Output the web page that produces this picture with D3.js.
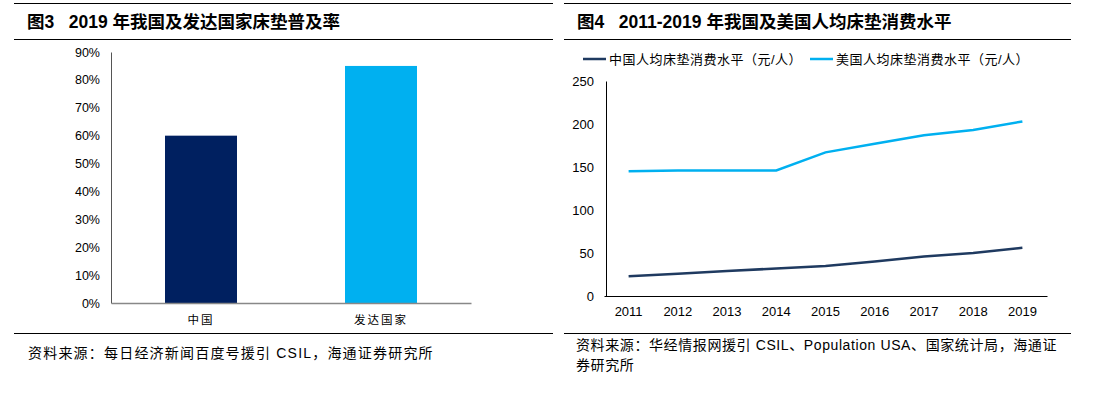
<!DOCTYPE html>
<html>
<head>
<meta charset="utf-8">
<script src="https://cdn.jsdelivr.net/npm/d3@7"></script>
<style>
  body { margin: 0; background: #fff; }
  svg { display: block; }
  text { font-family: "Liberation Sans", "Noto Sans CJK SC", sans-serif; }
  .title { white-space: pre; }
</style>
</head>
<body>
<svg id="chart" width="1108" height="393"></svg>
<script>
// left chart data
const barCats = ["中国", "发达国家"];
const barValues = [0.60, 0.85];
const barColors = ["#002060", "#00B0F0"];
const pctTicks = [0, 0.1, 0.2, 0.3, 0.4, 0.5, 0.6, 0.7, 0.8, 0.9];

// right chart data
const years = ["2011", "2012", "2013", "2014", "2015", "2016", "2017", "2018", "2019"];
const chinaSpend = [23, 26, 29, 32, 35, 40, 46, 50, 56];
const usaSpend = [145, 146, 146, 146, 167, 177, 187, 193, 203];
const seriesNames = ["中国人均床垫消费水平（元/人）", "美国人均床垫消费水平（元/人）"];
const lineColors = ["#1F3A60", "#00B0F0"];

const svg = d3.select("#chart");

// frame rules + titles
function panelFrame(x0, x1, title, bottomY) {
  svg.append("line").attr("x1", x0).attr("x2", x1).attr("y1", 3.5).attr("y2", 3.5)
    .attr("stroke", "#000").attr("stroke-width", 1);
  svg.append("line").attr("x1", x0).attr("x2", x1).attr("y1", 39.5).attr("y2", 39.5)
    .attr("stroke", "#000").attr("stroke-width", 1);
  svg.append("line").attr("x1", x0).attr("x2", x1).attr("y1", bottomY).attr("y2", bottomY)
    .attr("stroke", "#000").attr("stroke-width", 1);
  svg.append("text").attr("x", x0 + 13).attr("y", 28)
    .attr("class", "title")
    .style("font-size", "17.5px").style("font-weight", "bold")
    .text(title);
}
panelFrame(14, 553, "图3   2019 年我国及发达国家床垫普及率", 333.5);
panelFrame(564, 1071, "图4   2011-2019 年我国及美国人均床垫消费水平", 333.5);

// ---------- left: bar chart ----------
const x1 = d3.scaleBand().domain(barCats).range([111, 471]).paddingInner(0.6).paddingOuter(0.3);
const y1 = d3.scaleLinear().domain([0, 0.9]).range([303, 52]);

const gL = svg.append("g");
gL.selectAll("rect")
  .data(barCats)
  .join("rect")
  .attr("x", (d) => x1(d))
  .attr("width", x1.bandwidth())
  .attr("y", (d, i) => y1(barValues[i]))
  .attr("height", (d, i) => y1(0) - y1(barValues[i]))
  .attr("fill", (d, i) => barColors[i]);

const yAxL = gL.append("g").attr("transform", "translate(111,0)")
  .call(d3.axisLeft(y1).tickValues(pctTicks).tickSize(0).tickPadding(11).tickFormat(d3.format(".0%")));
yAxL.select(".domain").attr("stroke", "#555");
yAxL.selectAll("text").style("font-size", "12.5px").attr("fill", "#000");

const xAxL = gL.append("g").attr("transform", "translate(0,303)")
  .call(d3.axisBottom(x1).tickSize(0).tickPadding(13));
xAxL.select(".domain").attr("stroke", "#888").attr("stroke-width", 1.5);
xAxL.selectAll("text").style("font-size", "11.5px").style("letter-spacing", "2px").attr("fill", "#000");

svg.append("text").attr("x", 28).attr("y", 358)
  .style("font-size", "14px").style("letter-spacing", "1.2px")
  .text("资料来源：每日经济新闻百度号援引 CSIL，海通证券研究所");

// ---------- right: line chart ----------
const x2 = d3.scaleBand().domain(years).range([604, 1047]);
const y2 = d3.scaleLinear().domain([0, 250]).range([296, 81]);

const gR = svg.append("g");
const yAxR = gR.append("g").attr("transform", "translate(606,0)")
  .call(d3.axisLeft(y2).ticks(5).tickSize(0).tickPadding(12));
yAxR.select(".domain").attr("stroke", "#000");
yAxR.selectAll("text").style("font-size", "13px").attr("fill", "#000");

const xAxR = gR.append("g").attr("transform", "translate(0,296)")
  .call(d3.axisBottom(x2).tickSize(0).tickPadding(11));
xAxR.select(".domain").attr("stroke", "#000");
xAxR.selectAll("text").style("font-size", "13px").attr("fill", "#000");

const line = d3.line()
  .x((d, i) => x2(years[i]) + x2.bandwidth() / 2)
  .y((d) => y2(d));

[chinaSpend, usaSpend].forEach((vals, k) => {
  gR.append("path")
    .datum(vals)
    .attr("d", line)
    .attr("fill", "none")
    .attr("stroke", lineColors[k])
    .attr("stroke-width", 2.5);
});

// legend
const legX = [583, 810];
seriesNames.forEach((name, k) => {
  svg.append("line").attr("x1", legX[k]).attr("x2", legX[k] + 23)
    .attr("y1", 59).attr("y2", 59)
    .attr("stroke", lineColors[k]).attr("stroke-width", 2.5);
  svg.append("text").attr("x", legX[k] + 26).attr("y", 64)
    .style("font-size", "13px").style("letter-spacing", "0.5px").text(name);
});

svg.append("text").attr("x", 576).attr("y", 350)
  .style("font-size", "14px").style("letter-spacing", "0.6px")
  .text("资料来源：华经情报网援引 CSIL、Population USA、国家统计局，海通证");
svg.append("text").attr("x", 576).attr("y", 370)
  .style("font-size", "14px").style("letter-spacing", "0.6px")
  .text("券研究所");
</script>
</body>
</html>
